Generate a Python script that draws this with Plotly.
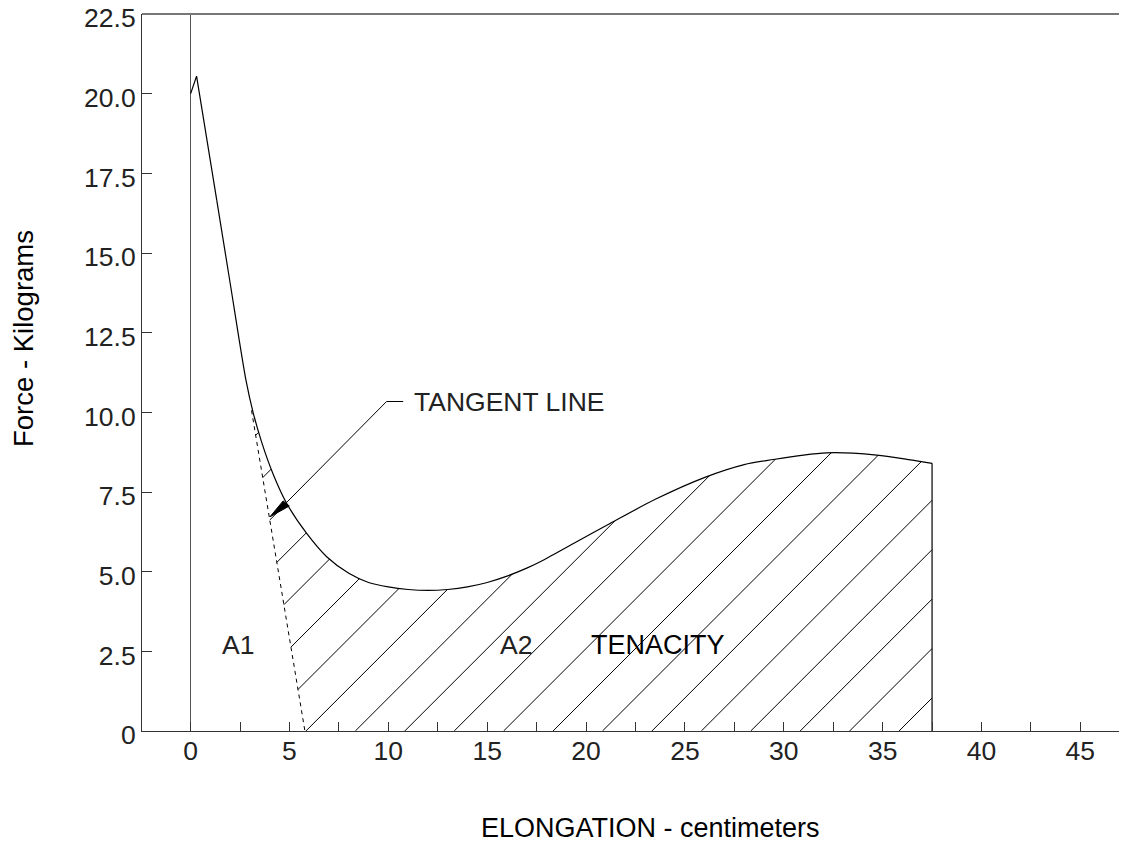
import numpy as np
import plotly.graph_objects as go

# ---- data ----
elong = [0.0, 0.3, 1.32, 2.0, 2.8, 3.17, 3.6, 4.18, 4.86, 5.87, 6.88, 8.0, 9.0, 10.0,
         11.0, 12.0, 13.0, 14.0, 15.0, 16.0, 17.0, 17.83, 19.5, 21.21, 23.5, 26.01,
         28.0, 29.47, 31.0, 32.17, 33.5, 34.7, 36.0, 36.8, 37.5]
force = [20.0, 20.55, 16.66, 14.05, 11.0, 9.97, 9.05, 8.05, 7.14, 6.20, 5.47, 4.95, 4.66, 4.52,
         4.44, 4.41, 4.44, 4.52, 4.66, 4.86, 5.11, 5.36, 5.93, 6.51, 7.27, 7.96,
         8.36, 8.52, 8.66, 8.73, 8.72, 8.66, 8.55, 8.47, 8.40]

tangent_x = [3.08, 5.78]
tangent_y = [10.06, 0.0]

leader_x = [4.82, 9.91, 10.75]
leader_y = [7.15, 10.34, 10.34]
wedge_x = [4.01, 4.68, 4.99, 4.01]
wedge_y = [6.72, 7.22, 7.06, 6.72]

hatch_step = 2.5          # spacing of hatch lines along the x axis
hatch_phase = 0.83        # hatch line crossing of y=0 (mod step)

x_ticks = [0, 5, 10, 15, 20, 25, 30, 35, 40, 45]
y_ticks = [0, 2.5, 5, 7.5, 10, 12.5, 15, 17.5, 20, 22.5]
y_ticktext = ["0", "2.5", "5.0", "7.5", "10.0", "12.5", "15.0", "17.5", "20.0", "22.5"]

labels = [("A1", 2.40, 2.70), ("A2", 16.46, 2.70)]

# ---- layout geometry (page has an 8px body margin) ----
W, H = 1127, 847
OFF = 8
ML, MR, MT, MB = 134, 8, 6, 124
x_range = [-2.46, 47.36]
y_range = [0, 22.5]
plot_w = W - ML - MR
plot_h = H - MT - MB
px_x = plot_w / (x_range[1] - x_range[0])
px_y = plot_h / (y_range[1] - y_range[0])
slope = px_x / px_y       # 45 degree hatch in screen space


def paper_x(page_x):
    return (page_x - OFF - ML) / plot_w


def paper_y(page_y):
    return (MT + plot_h - (page_y - OFF)) / plot_h


# ---- hatch lines clipped to the A2 region ----
wall_x = elong[-1]
xs = np.arange(2.5, wall_x + 1e-9, 0.002)
curve_y = np.interp(xs, elong, force)
hx, hy = [], []
k_min = int(np.floor((-10 - hatch_phase) / hatch_step))
k_max = int(np.floor((wall_x - hatch_phase) / hatch_step))
for k in range(k_min, k_max + 1):
    b = hatch_phase + k * hatch_step
    ys = (xs - b) * slope
    left = tangent_x[1] - ys * (tangent_x[1] - tangent_x[0]) / tangent_y[0]
    inside = (ys >= 0) & (ys <= curve_y) & (xs >= left) & (xs <= wall_x)
    idx = np.flatnonzero(inside)
    if idx.size == 0:
        continue
    for seg in np.split(idx, np.flatnonzero(np.diff(idx) > 1) + 1):
        hx += [xs[seg[0]], xs[seg[-1]], None]
        hy += [ys[seg[0]], ys[seg[-1]], None]

fig = go.Figure()
fig.add_trace(go.Scatter(x=hx, y=hy, mode="lines", line=dict(color="black", width=1),
                         hoverinfo="skip"))
# dashed tangent
fig.add_trace(go.Scatter(x=tangent_x, y=tangent_y, mode="lines",
                         line=dict(color="black", width=1, dash="4px,4px")))
# curve: sharp initial part, then smooth
fig.add_trace(go.Scatter(x=elong[:3], y=force[:3], mode="lines",
                         line=dict(color="black", width=1.2)))
fig.add_trace(go.Scatter(x=elong[2:], y=force[2:], mode="lines",
                         line=dict(color="black", width=1.2, shape="spline", smoothing=0.8)))
# right wall
fig.add_trace(go.Scatter(x=[wall_x, wall_x], y=[0, force[-1]], mode="lines",
                         line=dict(color="black", width=1.2)))
# tangent leader + wedge
fig.add_trace(go.Scatter(x=leader_x, y=leader_y, mode="lines",
                         line=dict(color="black", width=1)))
fig.add_trace(go.Scatter(x=wedge_x, y=wedge_y, mode="lines", fill="toself",
                         fillcolor="black", line=dict(color="black", width=1)))

FAM = "Liberation Sans, Arial, sans-serif"
font_thin = dict(family=FAM, size=26.5, color="#222")

ann = []
for t, x, y in labels:
    ann.append(dict(x=x, y=y, text=t, showarrow=False, font=font_thin,
                    xanchor="center", yanchor="middle"))
ann.append(dict(x=23.63, y=2.70, text="TENACITY", showarrow=False,
                font=dict(family=FAM, size=27, color="black"),
                xanchor="center", yanchor="middle"))
ann.append(dict(x=11.18, y=10.33, text="TANGENT LINE", showarrow=False, font=font_thin,
                xanchor="left", yanchor="middle"))
ann.append(dict(xref="paper", yref="paper", x=paper_x(650), y=paper_y(828),
                text="ELONGATION - centimeters", showarrow=False,
                font=dict(family=FAM, size=27, color="black"),
                xanchor="center", yanchor="middle"))
ann.append(dict(xref="paper", yref="paper", x=paper_x(23), y=paper_y(339),
                text="Force - Kilograms", showarrow=False, textangle=-90,
                font=dict(family=FAM, size=27.5, color="black"),
                xanchor="center", yanchor="middle"))

fig.update_layout(
    width=W, height=H,
    margin=dict(l=ML, r=MR, t=MT, b=MB, autoexpand=False),
    plot_bgcolor="white", paper_bgcolor="white",
    showlegend=False,
    annotations=ann,
    shapes=[dict(type="line", xref="paper", yref="paper", x0=0, x1=1, y0=1, y1=1,
                 line=dict(color="#777", width=2))],
    xaxis=dict(range=x_range, showgrid=False, zeroline=True, zerolinecolor="#555",
               zerolinewidth=1, showline=True, linecolor="#333", linewidth=1,
               automargin=False,
               tickvals=x_ticks, ticks="inside", ticklen=9, tickcolor="#333",
               tickfont=font_thin, ticklabelstandoff=-4,
               minor=dict(ticks="inside", ticklen=9, dtick=2.5, tick0=0, tickcolor="#333")),
    yaxis=dict(range=y_range, showgrid=False, zeroline=False, showline=True,
               linecolor="#333", linewidth=1, tickvals=y_ticks, ticktext=y_ticktext,
               automargin=False, ticklabelshift=4,
               ticks="inside", ticklen=10, tickcolor="#333", tickfont=font_thin,
               ticklabeloverflow="allow"),
)

fig.write_html("out.html")
